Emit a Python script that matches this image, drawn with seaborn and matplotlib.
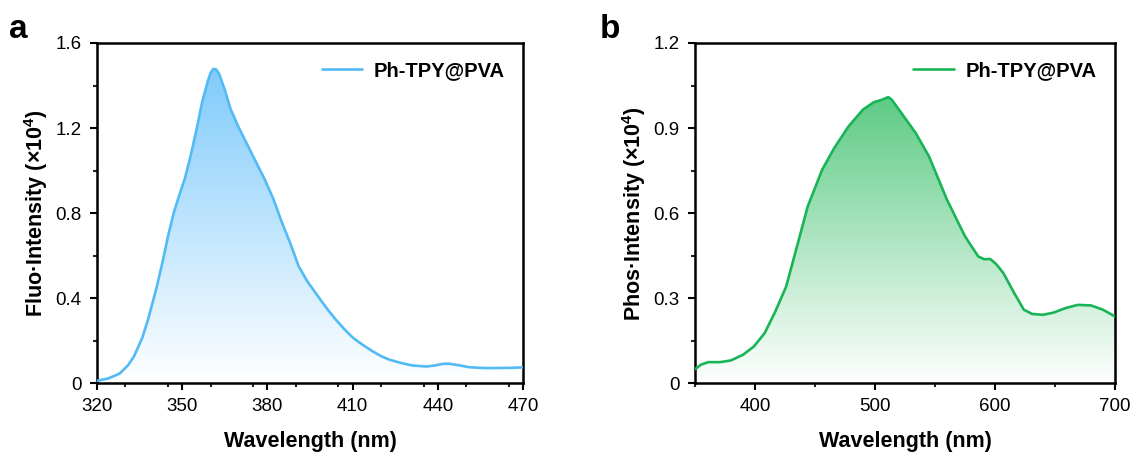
import numpy as np
import pandas as pd
import matplotlib
matplotlib.use("Agg")
import matplotlib.pyplot as plt
import seaborn as sns
from matplotlib.colors import LinearSegmentedColormap
from matplotlib.ticker import MultipleLocator, FixedLocator

# ---- data (intensity in units of 10^4) ----
fluo_wl = [320, 324, 328, 331, 333, 336, 338, 341, 343, 345, 347, 349, 351, 353, 355, 357, 359,
           360, 361, 362, 363, 365, 367, 370, 373, 376, 379, 382, 385, 388, 391, 394, 398, 401, 404,
           407, 410, 413, 417, 420, 423, 427, 431, 436, 439, 442, 444, 447, 451, 456, 461, 466, 470]
fluo_int = [0.011, 0.022, 0.045, 0.085, 0.125, 0.215, 0.30, 0.45, 0.565, 0.69, 0.80, 0.885, 0.965,
            1.07, 1.19, 1.32, 1.42, 1.46, 1.478, 1.475, 1.455, 1.38, 1.29, 1.20, 1.12, 1.04, 0.96,
            0.87, 0.76, 0.66, 0.55, 0.48, 0.405, 0.35, 0.30, 0.255, 0.215, 0.185, 0.15, 0.127,
            0.110, 0.095, 0.083, 0.078, 0.083, 0.091, 0.091, 0.085, 0.075, 0.071, 0.071, 0.072,
            0.074]

phos_wl = [350, 355, 361, 371, 380, 390, 399, 408, 417, 426, 435, 444, 456, 466, 478, 490, 499,
           506, 511, 514, 523, 534, 545, 560, 575, 586, 591, 596, 601, 607, 616, 624, 631, 640,
           649, 659, 669, 680, 690, 700]
phos_int = [0.049, 0.065, 0.074, 0.074, 0.080, 0.100, 0.129, 0.176, 0.253, 0.341, 0.482, 0.624,
            0.753, 0.829, 0.906, 0.965, 0.991, 1.0, 1.009, 1.0, 0.947, 0.882, 0.80, 0.647, 0.518,
            0.447, 0.437, 0.438, 0.42, 0.388, 0.318, 0.259, 0.244, 0.241, 0.249, 0.265, 0.276,
            0.274, 0.259, 0.235]

fluo_xticks = [320, 350, 380, 410, 440, 470]
phos_xticks = [400, 500, 600, 700]
fluo_yticks = [0, 0.4, 0.8, 1.2, 1.6]
phos_yticks = [0, 0.3, 0.6, 0.9, 1.2]

legend_label = "Ph-TPY@PVA"
xlabel = "Wavelength (nm)"

sns.set_theme(style="ticks")
plt.rcParams['font.family'] = ['Liberation Sans', 'DejaVu Sans']
plt.rcParams['mathtext.fontset'] = 'custom'
plt.rcParams['mathtext.rm'] = 'Liberation Sans'
plt.rcParams['mathtext.bf'] = 'Liberation Sans:bold'
plt.rcParams['text.color'] = 'black'
plt.rcParams['axes.labelcolor'] = 'black'

fig = plt.figure(figsize=(11.33, 4.55), dpi=100)
ax1 = fig.add_axes([0.0856, 0.158, 0.3760, 0.7475])
ax2 = fig.add_axes([0.6134, 0.158, 0.3707, 0.7475])


def gradient_fill(ax, x, y, top_color, ymax):
    poly = ax.fill_between(x, y, 0, color="none", lw=0)
    cmap = LinearSegmentedColormap.from_list("g", ["#ffffff", top_color])
    grad = np.linspace(0, 1, 256).reshape(-1, 1)
    im = ax.imshow(grad, aspect="auto", cmap=cmap, origin="lower",
                   extent=[min(x), max(x), 0, ymax], zorder=1, vmin=0, vmax=1)
    path = poly.get_paths()[0]
    im.set_clip_path(path, transform=ax.transData)


def yfmt(v, pos):
    if abs(v) < 1e-9:
        return "0"
    return f"{v:.1f}"


def style_axes(ax, xlim, ylim, xticks, yticks, ylabel):
    ax.set_xlim(*xlim)
    ax.set_ylim(*ylim)
    ax.xaxis.set_major_locator(FixedLocator(xticks))
    xs = xticks[1] - xticks[0]
    ax.xaxis.set_minor_locator(MultipleLocator(xs / 2))
    ax.yaxis.set_major_locator(FixedLocator(yticks))
    ax.yaxis.set_minor_locator(MultipleLocator((yticks[1] - yticks[0]) / 2))
    for s in ax.spines.values():
        s.set_linewidth(1.8)
        s.set_color("black")
        s.set_visible(True)
    ax.tick_params(which="major", direction="out", length=5, width=1.5, labelsize=13.5,
                   colors="black", top=False, right=False, pad=6)
    ax.tick_params(which="minor", direction="out", length=3, width=1.5, top=False, right=False)
    ax.set_xlabel(xlabel, fontsize=15.5, fontweight="bold", labelpad=11)
    ax.set_ylabel(ylabel, fontsize=15.5, fontweight="bold", labelpad=4)
    ax.yaxis.set_major_formatter(matplotlib.ticker.FuncFormatter(yfmt))
    ax.grid(False)


df1 = pd.DataFrame({"wl": fluo_wl, "val": fluo_int, "s": legend_label})
df2 = pd.DataFrame({"wl": phos_wl, "val": phos_int, "s": legend_label})

gradient_fill(ax1, fluo_wl, fluo_int, "#80CBFB", max(fluo_int))
sns.lineplot(data=df1, x="wl", y="val", hue="s", palette=["#52BAF5"], lw=1.9, ax=ax1,
             zorder=3, sort=False)
style_axes(ax1, (320, 470), (0, 1.6), fluo_xticks, fluo_yticks,
           "Fluo·Intensity (×10$^{\\mathbf{4}}$)")

gradient_fill(ax2, phos_wl, phos_int, "#5ECB85", max(phos_int))
sns.lineplot(data=df2, x="wl", y="val", hue="s", palette=["#18B556"], lw=1.9, ax=ax2,
             zorder=3, sort=False)
style_axes(ax2, (350, 700), (0, 1.2), phos_xticks, phos_yticks,
           "Phos·Intensity (×10$^{\\mathbf{4}}$)")

for ax in (ax1, ax2):
    ax.legend(loc="upper right", frameon=False, handlelength=2.0, handletextpad=0.6,
              borderaxespad=0.5, prop={"weight": "bold", "size": 14.5})

fig.text(0.008, 0.935, "a", fontsize=24, fontweight="bold", va="center", ha="left")
fig.text(0.529, 0.935, "b", fontsize=24, fontweight="bold", va="center", ha="left")

fig.savefig("out.png", dpi=100)
